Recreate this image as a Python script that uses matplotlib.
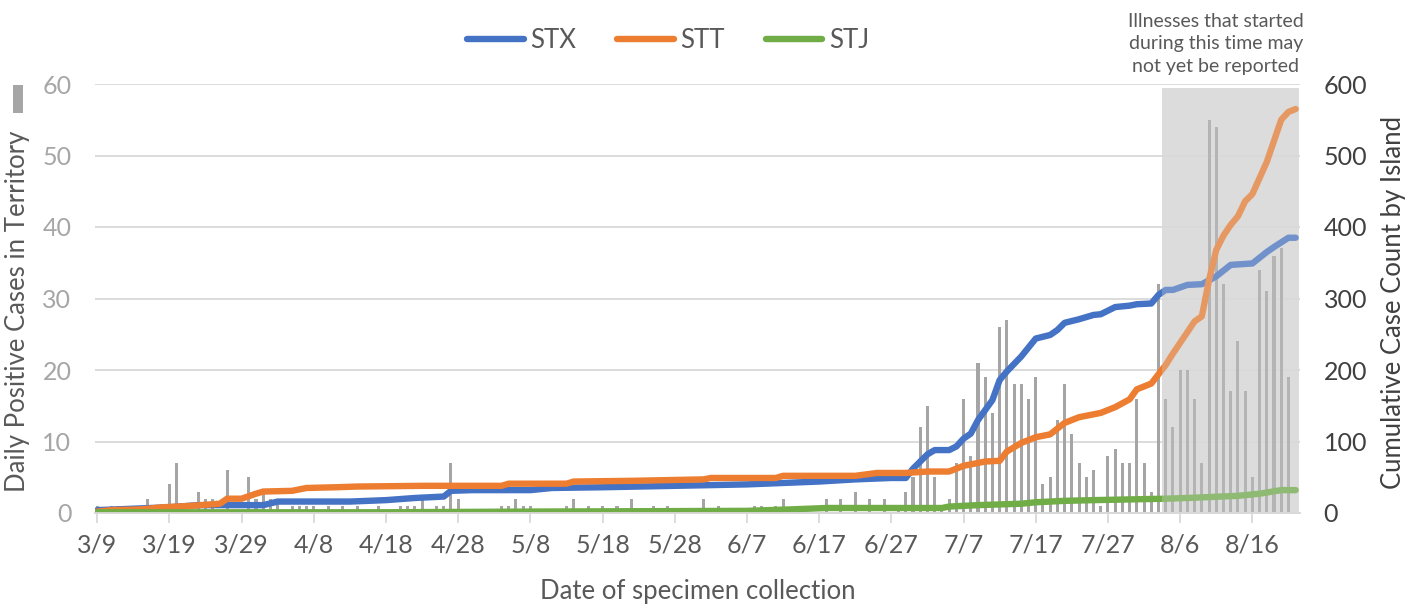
import matplotlib
matplotlib.use("Agg")
import matplotlib.pyplot as plt
from matplotlib.patches import Rectangle

plt.rcParams['font.family'] = ['Lato', 'DejaVu Sans']

# daily positive cases in territory, one value per day from 3/9 (day 0) to 8/22 (day 166)
daily_cases = [
    1, 0, 1, 1, 0, 0, 0, 2, 1, 0,
    4, 7, 0, 0, 3, 2, 2, 0, 6, 0,
    0, 5, 2, 3, 2, 2, 0, 1, 1, 1,
    1, 0, 1, 0, 1, 0, 1, 0, 0, 1,
    0, 0, 1, 1, 1, 2, 0, 1, 1, 7,
    2, 0, 0, 0, 0, 0, 1, 1, 2, 1,
    1, 0, 0, 0, 0, 1, 2, 0, 1, 0,
    1, 0, 1, 0, 2, 0, 0, 1, 0, 1,
    0, 0, 0, 0, 2, 0, 1, 0, 0, 0,
    0, 1, 1, 0, 1, 2, 0, 1, 1, 0,
    0, 2, 0, 2, 0, 3, 0, 2, 0, 2,
    0, 1, 3, 5, 12, 15, 5, 1, 2, 7,
    16, 8, 21, 19, 14, 26, 27, 18, 18, 16,
    19, 4, 5, 13, 18, 11, 7, 5, 6, 1,
    8, 9, 7, 7, 16, 7, 3, 32, 16, 12,
    20, 20, 16, 7, 55, 54, 32, 17, 24, 17,
    5, 34, 31, 36, 37, 19, 0,
]
days = list(range(len(daily_cases)))

# cumulative counts per island (day index, value)
stx_days = [0, 10, 14, 23, 25, 35, 40, 44, 48, 49, 52, 60, 63, 70, 80, 90, 100, 105, 110, 112,
            113, 115, 116, 118, 119, 120, 121, 122, 124, 125, 126, 128, 130, 132, 133, 134, 136,
            138, 139, 141, 143, 144, 146, 147, 148, 149, 151, 153, 155, 157, 160, 162, 163, 165, 166]
stx_vals = [4, 8, 11, 11, 16, 16, 18, 21, 23, 31, 32, 32, 35, 36, 38, 40, 44, 47, 49, 49,
            62, 82, 88, 88, 93, 104, 111, 130, 158, 186, 198, 219, 244, 249, 256, 266, 271,
            277, 278, 288, 290, 292, 293, 305, 312, 312, 319, 320, 331, 347, 349, 365, 372, 385, 385]

stt_days = [0, 2, 6, 9, 13, 17, 18, 20, 22, 23, 27, 29, 33, 36, 45, 56, 57, 65, 66, 74, 79, 84,
            85, 94, 95, 105, 108, 112, 115, 118, 120, 123, 125, 126, 128, 130, 132, 134, 136, 139,
            141, 143, 144, 146, 148, 149, 152, 153, 154, 155, 156, 157, 158, 159, 160, 162, 164,
            165, 166]
stt_vals = [2, 4, 5, 8, 10, 13, 20, 20, 27, 30, 31, 35, 36, 37, 38, 38, 41, 41, 44, 45, 46, 47,
            49, 49, 52, 52, 56, 56, 58, 58, 66, 72, 73, 86, 98, 106, 110, 126, 134, 140,
            148, 159, 173, 181, 207, 223, 268, 275, 326, 368, 388, 403, 415, 436, 446, 491, 550,
            561, 565]

stj_days = [0, 40, 60, 90, 96, 101, 117, 118, 122, 128, 130, 134, 138, 148, 151, 158, 161, 164, 166]
stj_vals = [1, 1, 2, 3, 5, 7, 7, 9, 11, 13, 15, 17, 18, 20, 21, 24, 27, 32, 32]

tick_days = list(range(0, 161, 10))
tick_labels = ["3/9", "3/19", "3/29", "4/8", "4/18", "4/28", "5/8", "5/18", "5/28",
               "6/7", "6/17", "6/27", "7/7", "7/17", "7/27", "8/6", "8/16"]

# period that may not be fully reported yet
lag_start, lag_end = 147.5, 166.5

W, H = 1421, 610
fig = plt.figure(figsize=(W / 100, H / 100), dpi=100)
ax = fig.add_axes([95 / W, 97 / H, 1205 / W, 429 / H])
ax2 = ax.twinx()

ax.axvspan(lag_start, lag_end, ymin=0, ymax=0.99, color='#DEDEDE', lw=0, zorder=0)
ax.bar(days, daily_cases, width=0.42, color='#A5A5A5', zorder=2)
ax.set_ylim(0, 60)
ax.set_yticks(range(0, 61, 10))
ax.yaxis.grid(True, color='#D9D9D9', lw=1.3, zorder=1)
ax.set_axisbelow(True)
ax.set_xlim(-0.3, 166.6)
ax.set_xticks(tick_days)
ax.set_xticklabels(tick_labels)
ax.tick_params(axis='x', length=7, width=1.3, color='#D9D9D9', labelsize=18,
               labelcolor='#595959', pad=8)
ax.tick_params(axis='y', length=0, labelsize=18, labelcolor='#A6A6A6', pad=17)

ax2.plot(stx_days, stx_vals, color='#4472C4', lw=4.6, solid_capstyle='round', zorder=2, label='STX')
ax2.plot(stt_days, stt_vals, color='#ED7D31', lw=4.6, solid_capstyle='round', zorder=2, label='STT')
ax2.plot(stj_days, stj_vals, color='#70AD47', lw=4.6, solid_capstyle='round', zorder=2, label='STJ')
ax2.axvspan(lag_start, lag_end, ymin=0, ymax=0.99, color='#D9D9D9', alpha=0.3, lw=0, zorder=3)
ax2.set_ylim(0, 600)
ax2.set_yticks(range(0, 601, 100))
ax2.tick_params(axis='y', length=0, labelsize=18, labelcolor='#404040', pad=17)

for a in (ax, ax2):
    for side in ('top', 'left', 'right'):
        a.spines[side].set_visible(False)
    a.spines['bottom'].set_color('#D9D9D9')
    a.spines['bottom'].set_linewidth(1.3)

fig.text(18 / W, 0.49, "Daily Positive Cases in Territory", rotation=90, ha='center',
         va='center', fontsize=18.5, color='#595959')
fig.add_artist(Rectangle((13 / W, 1 - 113 / H), 10 / W, 28 / H, transform=fig.transFigure,
                         color='#A6A6A6', lw=0))
fig.text(1393 / W, 0.504, "Cumulative Case Count by Island", rotation=90, ha='center',
         va='center', fontsize=18.5, color='#404040')
fig.text(698 / W, 1 - 592 / H, "Date of specimen collection", ha='center', va='center',
         fontsize=18.5, color='#595959')
fig.text(1216 / W, 1 - 44 / H, "Illnesses that started\nduring this time may\nnot yet be reported",
         ha='center', va='center', fontsize=14, color='#595959', linespacing=1.4)

fig.legend(loc='center', bbox_to_anchor=(668 / W, 1 - 40 / H), ncol=3, frameon=False,
           fontsize=18.5, handlelength=2.2, handletextpad=0.25, columnspacing=1.6,
           labelcolor='#595959')

fig.savefig("out.png", dpi=100)
